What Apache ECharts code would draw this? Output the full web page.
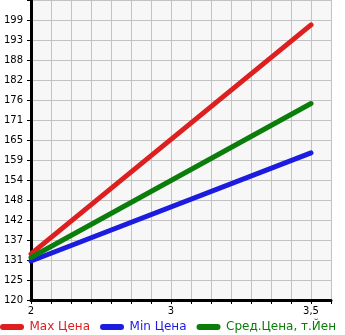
<!DOCTYPE html>
<html><head><meta charset="utf-8">
<script src="https://cdn.jsdelivr.net/npm/echarts@6/dist/echarts.min.js"></script>
<style>html,body{margin:0;padding:0;background:#fff}#c{width:345px;height:335px}</style>
</head><body><div id="c"></div>
<script>
// categories (x slots; labels only at engine sizes)
var xCategories = ['2','','','','','','','3','','','','','','','3,5',''];
// y tick labels (axis runs 120 .. ~204.6 in 15 equal steps)
var yTickLabels = ['120','125','131','137','142','148','154','159','165','171','176','182','188','193','199'];
var yMin = 120, yStep = 5.64;
// series values at '2' and '3,5'
var maxPrice = [133.0, 197.6];
var minPrice = [131.0, 161.5];
var avgPrice = [132.0, 175.4];
var seriesNames = ['Max Цена', 'Min Цена', 'Сред.Цена, т.Йен'];
var colors = ['#dd1f1f', '#1c1ce0', '#0a7d0a'];
var pointSlots = [0, 14];

function toSeriesData(vals) {
  var d = xCategories.map(function(){ return null; });
  pointSlots.forEach(function(s, i){ d[s] = (vals[i] - yMin) / yStep; });
  return d;
}
var chart = echarts.init(document.getElementById('c'), null, {renderer:'canvas'});
var font = 'DejaVu Sans';
var capsule = 'path://M3,0 L21,0 A3,3 0 0 1 21,6 L3,6 A3,3 0 0 1 3,0 Z';
chart.setOption({
  animation: false,
  backgroundColor: '#ffffff',
  grid: {left: 31, right: 14, top: 0, bottom: 35, show: true, backgroundColor: '#f7f7f7', borderWidth: 0},
  legend: {
    left: 0, top: 321, padding: 0, itemWidth: 25, itemHeight: 6, itemGap: 10,
    data: seriesNames.map(function(n, i){ return {name: n, icon: capsule, textStyle: {color: colors[i]}}; }),
    textStyle: {fontFamily: font, fontSize: 12}
  },
  xAxis: {
    type: 'category', data: xCategories, boundaryGap: false,
    axisLine: {show: true, lineStyle: {color: '#000', width: 3}},
    axisTick: {show: true, length: 4, interval: 0, lineStyle: {color: '#000', width: 1}},
    axisLabel: {interval: 0, margin: 6, color: '#000', fontFamily: font, fontSize: 10},
    splitLine: {show: true, interval: 0, lineStyle: {color: '#c3c3c3', width: 1}}
  },
  yAxis: {
    type: 'value', min: 0, max: 15, interval: 1,
    axisLine: {show: true, lineStyle: {color: '#000', width: 3}},
    axisTick: {show: true, length: 4, lineStyle: {color: '#000', width: 1}},
    axisLabel: {margin: 8, color: '#000', fontFamily: font, fontSize: 10, padding: [0,0,9,0],
      formatter: function(v){ return yTickLabels[Math.round(v)] || ''; }},
    splitLine: {show: true, lineStyle: {color: '#c3c3c3', width: 1}}
  },
  series: [maxPrice, minPrice, avgPrice].map(function(vals, i){
    return {
      name: seriesNames[i], type: 'line', data: toSeriesData(vals), connectNulls: true,
      showSymbol: false, symbol: 'none', color: colors[i],
      lineStyle: {color: colors[i], width: 5, cap: 'round'}
    };
  })
});
</script></body></html>
